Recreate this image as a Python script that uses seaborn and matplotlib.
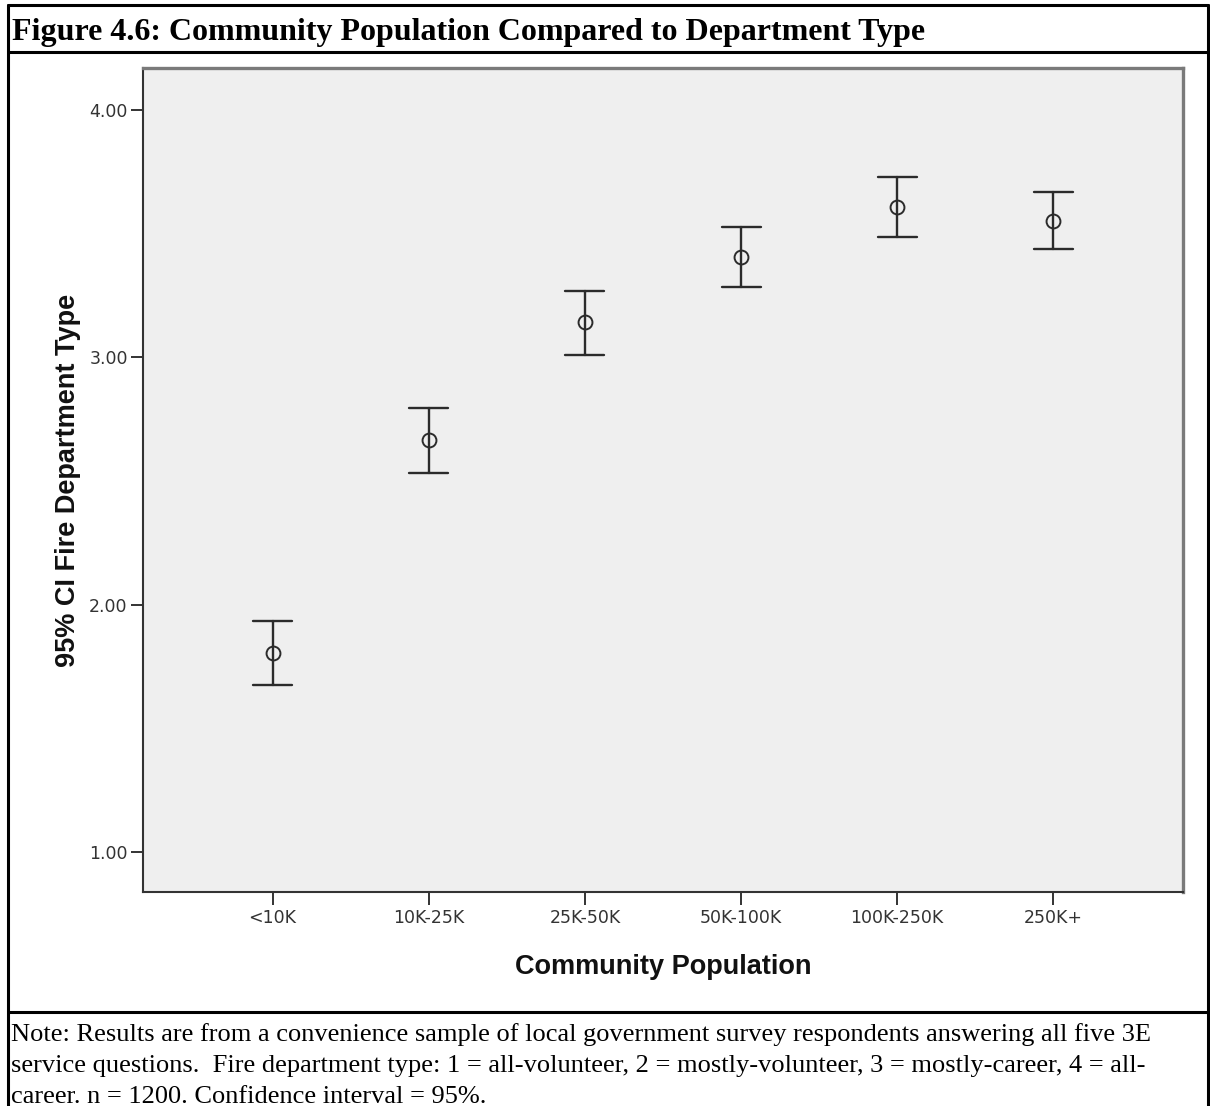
import matplotlib
matplotlib.use("Agg")
import matplotlib.pyplot as plt
from matplotlib.lines import Line2D
from matplotlib.ticker import FormatStrFormatter
import numpy as np
import pandas as pd
import seaborn as sns

# Community population groups and mean fire department type with 95% CI bounds
categories = ["<10K", "10K-25K", "25K-50K", "50K-100K", "100K-250K", "250K+"]
mean_type = [1.806, 2.665, 3.141, 3.405, 3.607, 3.553]
ci_lower = [1.677, 2.532, 3.010, 3.283, 3.488, 3.439]
ci_upper = [1.935, 2.794, 3.270, 3.528, 3.731, 3.668]
y_ticks = [1.0, 2.0, 3.0, 4.0]

title_text = "Figure 4.6: Community Population Compared to Department Type"
note_lines = [
    "Note: Results are from a convenience sample of local government survey respondents answering all five 3E",
    "service questions.  Fire department type: 1 = all-volunteer, 2 = mostly-volunteer, 3 = mostly-career, 4 = all-",
    "career. n = 1200. Confidence interval = 95%.",
]

# Long table: the median of each group is the mean, min/max are the CI bounds
rows = []
for cat, lo, m, hi in zip(categories, ci_lower, mean_type, ci_upper):
    for v in (lo, m, hi):
        rows.append({"Community Population": cat, "Type": v})
df = pd.DataFrame(rows)

sns.set_theme(style="white")
W, H = 1210, 1106
fig = plt.figure(figsize=(W / 100, H / 100), dpi=100)
fig.patch.set_facecolor("white")

ax = fig.add_axes([143 / W, 1 - 892 / H, (1183 - 143) / W, (892 - 68) / H])
ax.set_facecolor("#efefef")

dark = "#2b2b2b"
sns.pointplot(
    data=df, x="Community Population", y="Type", order=categories,
    estimator="median", errorbar=lambda v: (v.min(), v.max()),
    linestyle="none", markers="o", color=dark, capsize=0.25,
    markerfacecolor="none", markersize=10, markeredgewidth=1.4,
    err_kws={"linewidth": 1.7, "color": dark}, ax=ax,
)

ax.set_xlim(-0.83, 5.83)
ax.set_ylim(0.838, 4.17)
ax.set_yticks(y_ticks)
ax.yaxis.set_major_formatter(FormatStrFormatter("%.2f"))

ax.set_xlabel("Community Population", fontsize=19.5, fontweight="bold",
              family="Liberation Sans", color="#111111", labelpad=20)
ax.set_ylabel("95% CI Fire Department Type", fontsize=19.5, fontweight="bold",
              family="Liberation Sans", color="#111111", labelpad=6)

ax.tick_params(axis="both", which="major", direction="out", length=9, width=1.4,
               color="#333333", labelsize=12.5, labelcolor="#333333", pad=2,
               bottom=True, left=True)
ax.tick_params(axis="x", pad=3)

for side in ("left", "bottom"):
    ax.spines[side].set_color("#333333")
    ax.spines[side].set_linewidth(1.5)
for side in ("top", "right"):
    ax.spines[side].set_color("#7a7a7a")
    ax.spines[side].set_linewidth(2.4)

# Outer frame with title band and note band
frame_kw = dict(color="black", linewidth=2.2, transform=fig.transFigure)
def fx(px):
    return px / W
def fy(py):
    return 1 - py / H
fig.add_artist(Line2D([fx(8), fx(1208)], [fy(5), fy(5)], **frame_kw))
fig.add_artist(Line2D([fx(8), fx(1208)], [fy(52), fy(52)], **frame_kw))
fig.add_artist(Line2D([fx(8), fx(1208)], [fy(1012), fy(1012)], **frame_kw))
fig.add_artist(Line2D([fx(8), fx(8)], [fy(5), fy(1106)], **frame_kw))
fig.add_artist(Line2D([fx(1208), fx(1208)], [fy(5), fy(1106)], **frame_kw))

fig.text(fx(12), fy(40), title_text, family="Liberation Serif", fontweight="bold",
         fontsize=23, color="black", ha="left", va="baseline")

for i, line in enumerate(note_lines):
    fig.text(fx(11), fy(1041 + 31 * i), line, family="Liberation Serif",
             fontsize=19, color="black", ha="left", va="baseline")

fig.savefig("out.png", dpi=100, facecolor="white")
